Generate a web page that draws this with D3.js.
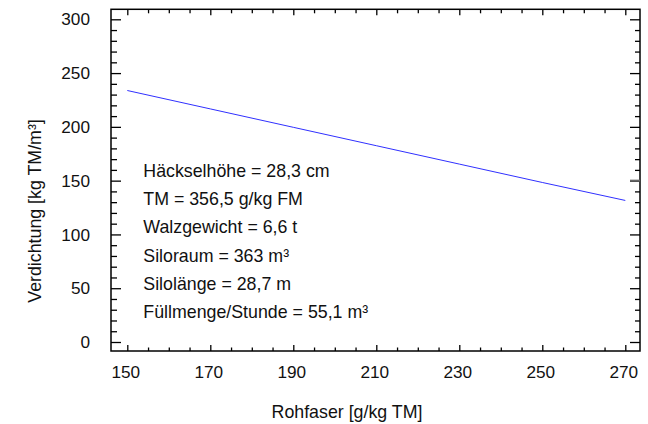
<!DOCTYPE html>
<html><head><meta charset="utf-8">
<script src="https://cdn.jsdelivr.net/npm/d3@7"></script>
<style>
html,body{margin:0;padding:0;background:#fff;}
svg{display:block;font-family:"Liberation Sans",Arial,sans-serif;}
</style></head>
<body><svg id="c" width="648" height="424"></svg>
<script>
const rohfaser = [150, 170, 190, 210, 230, 250, 270];
const verdichtung = [233.8, 216.7, 199.6, 182.5, 165.4, 148.3, 131.6];
const xTicks = [150, 170, 190, 210, 230, 250, 270];
const yTicks = [0, 50, 100, 150, 200, 250, 300];
const annotations = ["Häckselhöhe = 28,3 cm", "TM = 356,5 g/kg FM", "Walzgewicht = 6,6 t",
  "Siloraum = 363 m³", "Silolänge = 28,7 m", "Füllmenge/Stunde = 55,1 m³"];
const xTitle = "Rohfaser [g/kg TM]";
const yTitle = "Verdichtung [kg TM/m³]";
const markerValue = 150;

const L = 111, R = 640, T = 9.3, B = 351;
const x = d3.scaleLinear().domain([150, 270]).range([127.3, 625.3]);
const y = d3.scaleLinear().domain([0, 300]).range([342, 19.3]);
const svg = d3.select("#c");

const xMinor = d3.range(150, 271, 5).filter(v => !xTicks.includes(v));
const yMinor = d3.range(0, 301, 10).filter(v => !yTicks.includes(v));

const tickFs = 17.2, textFs = 17.8;
// bottom axis (ticks inward)
const gB = svg.append("g").attr("transform", `translate(0,${B})`)
  .call(d3.axisBottom(x).tickValues(xTicks).tickSize(-6).tickFormat(""));
gB.append("g").call(d3.axisBottom(x).tickValues(xMinor).tickSize(-3.5).tickFormat(""));
// top axis
const gT = svg.append("g").attr("transform", `translate(0,${T})`)
  .call(d3.axisTop(x).tickValues(xTicks).tickSize(-6).tickFormat(""));
gT.append("g").call(d3.axisTop(x).tickValues(xMinor).tickSize(-4).tickFormat(""));
// left axis
const gL = svg.append("g").attr("transform", `translate(${L},0)`)
  .call(d3.axisLeft(y).tickValues(yTicks).tickSize(-10).tickFormat(""));
gL.append("g").call(d3.axisLeft(y).tickValues(yMinor).tickSize(-6).tickFormat(""));
// right axis
const gR = svg.append("g").attr("transform", `translate(${R},0)`)
  .call(d3.axisRight(y).tickValues(yTicks).tickSize(-10).tickFormat(""));
gR.append("g").call(d3.axisRight(y).tickValues(yMinor).tickSize(-5).tickFormat(""));

svg.selectAll(".domain").remove();
svg.selectAll(".tick line").attr("stroke", "#000").attr("stroke-width", 1.3);

// tick labels
svg.append("g").selectAll("text").data(xTicks).join("text")
  .attr("x", d => x(d) - 1.5).attr("y", 377.5).attr("text-anchor", "middle")
  .attr("font-size", tickFs).attr("fill", "#111").text(d => d);
svg.append("g").selectAll("text").data(yTicks).join("text")
  .attr("x", 90).attr("y", d => y(d)).attr("dy", "0.36em").attr("text-anchor", "end")
  .attr("font-size", tickFs).attr("fill", "#111").text(d => d);

// frame
svg.append("rect").attr("x", L).attr("y", T).attr("width", R - L).attr("height", B - T)
  .attr("fill", "none").attr("stroke", "#000").attr("stroke-width", 1.5);

// gray marker on right axis
svg.append("line").attr("x1", R - 10).attr("x2", R).attr("y1", y(markerValue)).attr("y2", y(markerValue))
  .attr("stroke", "#666").attr("stroke-width", 2);

// line
svg.append("path").datum(rohfaser.map((d, i) => [d, verdichtung[i]]))
  .attr("fill", "none").attr("stroke", "#3030ff").attr("stroke-width", 1)
  .attr("d", d3.line().x(d => x(d[0])).y(d => y(d[1])));

// annotations
svg.append("g").selectAll("text").data(annotations).join("text")
  .attr("x", 143.3).attr("y", (d, i) => 176.7 + i * 28.3)
  .attr("font-size", textFs).attr("fill", "#111").text(d => d);

// titles
svg.append("text").attr("x", 347).attr("y", 417.5).attr("text-anchor", "middle")
  .attr("font-size", textFs).attr("fill", "#111").text(xTitle);
svg.append("text").attr("transform", "translate(40.7,211) rotate(-90)").attr("text-anchor", "middle")
  .attr("font-size", textFs).attr("fill", "#111").text(yTitle);
</script>
</body></html>
